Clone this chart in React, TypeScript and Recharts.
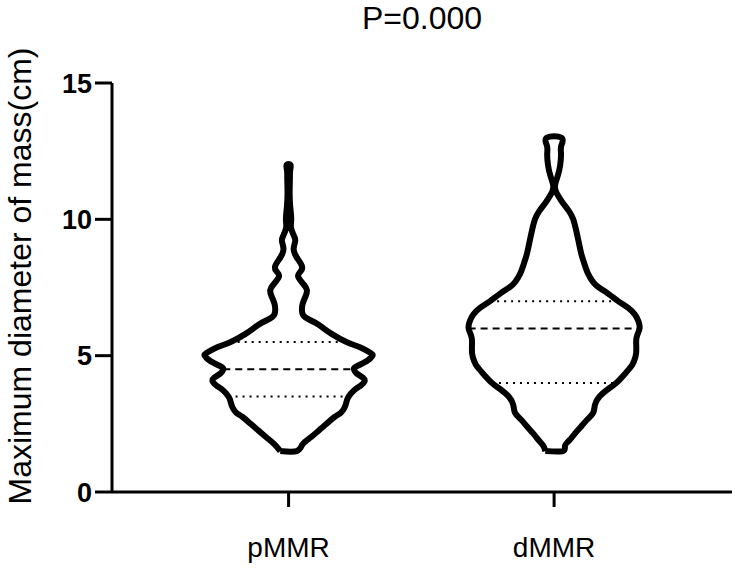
import { ComposedChart, Scatter, XAxis, YAxis } from "recharts";

const FONT = '"Liberation Sans", Arial, sans-serif';

const groups = ["pMMR", "dMMR"];
const groupPos = [1, 2];
const title = "P=0.000";
const yLabel = "Maximum diameter of mass(cm)";
const yTicks = [0, 5, 10, 15];

// violin outline: levels (cm, top first) and half width at each level (x-axis units)
const pLevels = [12, 11.8, 11.5, 11, 10.5, 10, 9.7, 9.4, 9.2, 8.9, 8.6, 8.3, 8.1, 7.9, 7.6, 7.4, 7.2, 6.9, 6.6, 6.4, 6.2, 6.0, 5.8, 5.5, 5.3, 5.1, 5.0, 4.8, 4.6, 4.5, 4.35, 4.2, 4.05, 3.9, 3.75, 3.5, 3.3, 3.1, 2.9, 2.75, 2.5, 2.25, 2.0, 1.75, 1.5];
const pHalf = [0.007, 0.006, 0.005, 0.004, 0.006, 0.01, 0.009, 0.02, 0.025, 0.019, 0.031, 0.05, 0.046, 0.036, 0.058, 0.069, 0.065, 0.053, 0.051, 0.064, 0.102, 0.132, 0.162, 0.218, 0.271, 0.309, 0.316, 0.294, 0.254, 0.246, 0.256, 0.279, 0.286, 0.271, 0.249, 0.226, 0.218, 0.211, 0.196, 0.173, 0.143, 0.113, 0.083, 0.053, 0.031];

const dLevels = [13, 12.7, 12.4, 12, 11.6, 11.2, 10.9, 10.6, 10.3, 10, 9.6, 9.2, 8.75, 8.4, 8.0, 7.7, 7.5, 7.25, 7.0, 6.75, 6.5, 6.25, 6.0, 5.75, 5.5, 5.1, 4.8, 4.6, 4.3, 4.0, 3.75, 3.5, 3.2, 2.9, 2.65, 2.4, 2.15, 1.9, 1.7, 1.5];
const dHalf = [0.027, 0.027, 0.026, 0.023, 0.014, 0.003, 0.013, 0.033, 0.056, 0.072, 0.083, 0.092, 0.102, 0.113, 0.128, 0.147, 0.169, 0.207, 0.241, 0.279, 0.305, 0.318, 0.322, 0.313, 0.309, 0.309, 0.301, 0.29, 0.264, 0.234, 0.2, 0.171, 0.154, 0.147, 0.124, 0.102, 0.079, 0.058, 0.041, 0.033];

// Q1, median, Q3
const pQuart = [3.5, 4.5, 5.5];
const dQuart = [4.0, 6.0, 7.0];

function outline(pos: number, levels: number[], half: number[]) {
  const left = levels.map((y, i) => ({ x: pos - half[i], y })).reverse();
  const right = levels.map((y, i) => ({ x: pos + half[i], y }));
  return [...left, ...right, left[0]];
}

function quartLine(pos: number, q: number, levels: number[], half: number[]) {
  const w = half[levels.indexOf(q)];
  return [
    { x: pos - w, y: q },
    { x: pos + w, y: q },
  ];
}

const violins = [
  { pos: groupPos[0], levels: pLevels, half: pHalf, quart: pQuart },
  { pos: groupPos[1], levels: dLevels, half: dHalf, quart: dQuart },
];

const NoDot = () => <g />;

export default function App() {
  return (
    <div style={{ position: "absolute", left: 0, top: 0, width: 735, height: 568 }}>
      <ComposedChart width={735} height={568} margin={{ top: 83, right: 3, bottom: 0, left: 0 }}>
        <XAxis
          type="number"
          dataKey="x"
          domain={[0.335, 2.67]}
          ticks={groupPos}
          tickFormatter={(v: number) => groups[groupPos.indexOf(v)] ?? ""}
          allowDataOverflow
          height={76}
          axisLine={{ stroke: "#000", strokeWidth: 3 }}
          tickLine={{ stroke: "#000", strokeWidth: 3 }}
          tickSize={15}
          tickMargin={30}
          tick={{ fill: "#000", fontSize: 28, fontFamily: FONT }}
        />
        <YAxis
          type="number"
          dataKey="y"
          domain={[0, 15]}
          ticks={yTicks}
          width={112}
          axisLine={{ stroke: "#000", strokeWidth: 3 }}
          tickLine={{ stroke: "#000", strokeWidth: 3 }}
          tickSize={17}
          tickMargin={3}
          tick={{ fill: "#000", fontSize: 27, fontWeight: "bold", fontFamily: FONT }}
          label={() => (
            <text
              x={31}
              y={276}
              transform="rotate(-90 31 276)"
              textAnchor="middle"
              fill="#000"
              fontSize={32}
              fontFamily={FONT}
            >
              {yLabel}
            </text>
          )}
        />
        {violins.map((v, i) => (
          <Scatter
            key={`v-${i}`}
            data={outline(v.pos, v.levels, v.half)}
            line={{ stroke: "#000", strokeWidth: 6, strokeLinejoin: "round", fill: "none" }}
            lineJointType="natural"
            shape={NoDot}
            isAnimationActive={false}
          />
        ))}
        {violins.map((v, i) =>
          v.quart.map((q, j) => (
            <Scatter
              key={`q-${i}-${j}`}
              data={quartLine(v.pos, q, v.levels, v.half)}
              line={{
                stroke: "#000",
                strokeWidth: 2,
                strokeDasharray: j === 1 ? "7 5" : "2 5",
              }}
              shape={NoDot}
              isAnimationActive={false}
            />
          ))
        )}
      </ComposedChart>
      <div
        style={{
          position: "absolute",
          left: 112,
          width: 620,
          top: 0,
          textAlign: "center",
          fontFamily: FONT,
          fontSize: 32,
          lineHeight: "36px",
          color: "#000",
        }}
      >
        {title}
      </div>
    </div>
  );
}
